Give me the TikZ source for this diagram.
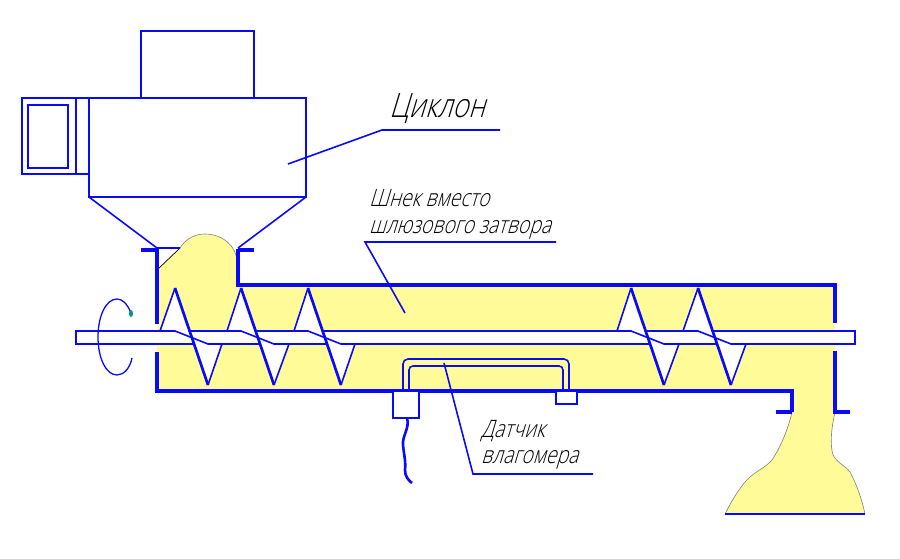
\documentclass[tikz,border=0pt]{standalone}
\usepackage{fontspec}
\newfontfamily\gostfont[FakeSlant=0.3,FakeStretch=0.81]{Open Sans Light}
\definecolor{lineblue}{RGB}{10,10,250}
\definecolor{fillyel}{RGB}{255,251,153}
\definecolor{dotteal}{RGB}{0,150,140}
\begin{document}
\begin{tikzpicture}[x=1pt,y=-1pt,
thn/.style = {draw,line width=1.6pt,lineblue},
med/.style = {draw,line width=2pt,lineblue},
thk/.style = {draw,line width=3.4pt,lineblue},
flt/.style = {draw,line width=2.7pt,lineblue},
whi/.style = {fill=white},
yel/.style = {fill=fillyel},
edg/.style = {draw,line width=0.6pt,gray},
txt/.style = {inner sep=0pt,anchor=base west,font=\gostfont\fontsize{24}{24}\selectfont}
]
  \useasboundingbox (0,0) rectangle (900,558);

  \path[yel] (157,390) -- (157,270) -- (180,248) .. controls (186,238) and (196,234) .. (205,234)
    .. controls (222,234) and (237,246) .. (237,262) -- (237,285) -- (835,285) -- (835,412)
    .. controls (831,430) and (830,445) .. (833,455) .. controls (838,464) and (846,466) .. (850,472)
    .. controls (857,485) and (862,500) .. (865,514) -- (725,514) .. controls (733,498) and (742,484) .. (750,477)
    .. controls (758,470) and (766,467) .. (772,460) .. controls (780,448) and (788,430) .. (792,412)
    -- (792,390) -- cycle;

  \path[edg] (180,248) .. controls (186,238) and (196,234) .. (205,234) .. controls (222,234) and (237,246) .. (237,262);
  \path[edg] (792,412) .. controls (788,430) and (780,448) .. (772,460) .. controls (766,467) and (758,470) .. (750,477)
    .. controls (742,484) and (733,498) .. (725,514);
  \path[edg] (835,412) .. controls (831,430) and (830,445) .. (833,455) .. controls (838,464) and (846,466) .. (850,472)
    .. controls (857,485) and (862,500) .. (865,514);
  \draw[black,line width=0.7pt] (157,270) -- (180,248);

  \path[thn] (141,31) rectangle (254,98);
  \path[med] (89,98) rectangle (306,197);
  \path[thn] (22,98) rectangle (89,174);
  \path[thn] (76,98) -- (76,174);
  \path[med] (28,105) rectangle (68,168);
  \path[thn] (89,197) -- (157,248) -- (180,248);
  \path[thn] (306,197) -- (238,248);
  \path[thk] (141,250) -- (157,250);
  \path[thk] (238,250) -- (254,250);

  \path[thk] (157,249) -- (157,324);
  \path[thk] (157,352) -- (157,391) -- (792,391) -- (792,412);
  \path[thk] (776,412) -- (792,412);
  \path[thk] (238,249) -- (238,285) -- (835,285) -- (835,323);
  \path[thk] (835,351) -- (835,412) -- (850,412);
  \path[thn] (725,514) -- (865,514);

  \path[whi] (160,331) -- (175,288) -- (190,331) -- cycle;
  \path[whi] (227,331) -- (241,288) -- (256,331) -- cycle;
  \path[whi] (294,331) -- (308,288) -- (323,331) -- cycle;
  \path[whi] (617,331) -- (631,288) -- (646,331) -- cycle;
  \path[whi] (683,331) -- (698,288) -- (713,331) -- cycle;
  \path[whi] (194,344) -- (208,385) -- (222,344) -- cycle;
  \path[whi] (260,344) -- (274,385) -- (289,344) -- cycle;
  \path[whi] (327,344) -- (341,385) -- (355,344) -- cycle;
  \path[whi] (650,344) -- (664,385) -- (679,344) -- cycle;
  \path[whi] (717,344) -- (731,385) -- (746,344) -- cycle;

  \path[whi] (76,331) rectangle (855,344);

  \path[thn] (194,344) -- (76,344) -- (76,331) -- (175,331) -- (208,344) -- (260,344);
  \path[thn] (190,331) -- (241,331) -- (274,344) -- (327,344);
  \path[thn] (256,331) -- (308,331) -- (341,344) -- (650,344);
  \path[thn] (323,331) -- (631,331) -- (664,344) -- (717,344);
  \path[thn] (646,331) -- (698,331) -- (731,344) -- (855,344) -- (855,331) -- (713,331);

  \path[thn] (160,331) -- (175,288);
  \path[thn] (227,331) -- (241,288);
  \path[thn] (294,331) -- (308,288);
  \path[thn] (617,331) -- (631,288);
  \path[thn] (683,331) -- (698,288);
  \path[thn] (208,385) -- (222,344);
  \path[thn] (274,385) -- (289,344);
  \path[thn] (341,385) -- (355,344);
  \path[thn] (664,385) -- (679,344);
  \path[thn] (731,385) -- (746,344);

  \path[flt] (175,288) -- (208,385);
  \path[flt] (241,288) -- (274,385);
  \path[flt] (308,288) -- (341,385);
  \path[flt] (631,288) -- (664,385);
  \path[flt] (698,288) -- (731,385);

  \path[thn,rounded corners=5pt] (403,389) -- (403,359) -- (569,359) -- (569,389);
  \path[thn,rounded corners=4pt] (409,389) -- (409,366) -- (563,366) -- (563,389);
  \path[thn,whi] (393,391) rectangle (419,418);
  \path[thn,whi] (556,391) rectangle (577,404);
  \path[thk,line width=2.6pt] (407,418) .. controls (410,428) and (402,436) .. (403,445)
    .. controls (404,455) and (406,462) .. (405,470) .. controls (405,476) and (408,480) .. (412,483);

  \draw[thn,line width=1.3pt] (131,313) .. controls (127,303) and (122,299) .. (117,299)
    .. controls (106,299) and (98,316) .. (98,337) .. controls (98,358) and (106,375) .. (117,375)
    .. controls (124,375) and (130,368) .. (132,358);
  \fill[dotteal] (131,313.5) ellipse (2pt and 3.5pt);

  \coordinate (cyc1) at (288,164);
  \coordinate (cyc2) at (382,130);
  \coordinate (cyc3) at (500,130);
  \coordinate (scr1) at (405,313);
  \coordinate (scr2) at (365,242);
  \coordinate (scr3) at (556,242);
  \coordinate (sen1) at (444,363);
  \coordinate (sen2) at (473,474);
  \coordinate (sen3) at (593,474);
  \path[thn] (cyc1) -- (cyc2) -- (cyc3);
  \path[thn] (scr1) -- (scr2) -- (scr3);
  \path[thn] (sen1) -- (sen2) -- (sen3);

  \node[txt,font=\gostfont\fontsize{33.5}{34}\selectfont] (cyc) at (389,117) {Циклон};
  \node[txt] (scr) at (369,206) {Шнек вместо};
  \node[txt] (lck) at (369,233) {шлюзового затвора};
  \node[txt] (sen) at (481,437) {Датчик};
  \node[txt] (hum) at (481,463) {влагомера};
\end{tikzpicture}
\end{document}
